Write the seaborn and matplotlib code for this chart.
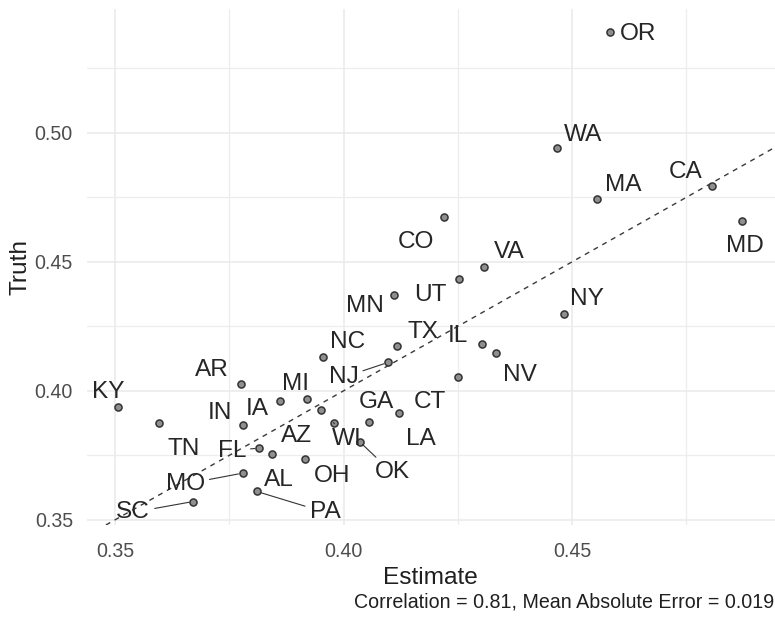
import matplotlib
matplotlib.use("Agg")
import matplotlib.pyplot as plt
import seaborn as sns
import pandas as pd
from matplotlib.ticker import FixedLocator

# ---------------- data ----------------
states = ["OR", "WA", "MA", "CA", "MD", "CO", "VA", "UT", "MN", "NY", "NC",
          "TX", "IL", "NV", "NJ", "CT", "AR", "KY", "MI", "IA", "AZ", "LA",
          "GA", "WI", "TN", "IN", "OK", "FL", "AL", "OH", "MO", "PA", "SC"]
estimate = [0.4583, 0.4468, 0.4555, 0.4807, 0.4871, 0.4220, 0.4308, 0.4252,
            0.4111, 0.4482, 0.3954, 0.4118, 0.4302, 0.4334, 0.4097, 0.4251,
            0.3775, 0.3507, 0.3919, 0.3861, 0.3950, 0.4121, 0.4056, 0.3978,
            0.3597, 0.3779, 0.4035, 0.3815, 0.3843, 0.3916, 0.3779, 0.3810,
            0.3671]
truth = [0.5390, 0.4943, 0.4743, 0.4795, 0.4660, 0.4672, 0.4479, 0.4435,
         0.4372, 0.4297, 0.4131, 0.4174, 0.4182, 0.4148, 0.4110, 0.4053,
         0.4027, 0.3939, 0.3968, 0.3962, 0.3926, 0.3914, 0.3881, 0.3877,
         0.3875, 0.3866, 0.3803, 0.3778, 0.3755, 0.3735, 0.3681, 0.3610,
         0.3571]
x_ticks = [0.35, 0.40, 0.45]
y_ticks = [0.35, 0.40, 0.45, 0.50]
x_label = "Estimate"
y_label = "Truth"
caption = "Correlation = 0.81, Mean Absolute Error = 0.019"

# ---------------- layout (label placement, pixels: dx right, dy down) ----------------
label_offsets = {
    "OR": (28.3, -0.6), "WA": (26, -15), "MA": (26, -16.6), "CA": (-26.6, -16.7),
    "MD": (3.3, 23.3), "CO": (-28, 22.3), "VA": (24.7, -17.3), "UT": (-28.7, 13.6),
    "MN": (-29, 9), "NY": (22.7, -17.6), "NC": (25.3, -17.3), "TX": (25.4, -16),
    "IL": (-23.4, -10.7), "NV": (24, 20), "NJ": (-44.4, 12.3), "CT": (-28.3, 22.7),
    "AR": (-28.4, -16.3), "KY": (-10, -16.7), "MI": (-10.7, -17.6), "IA": (-22.3, 6),
    "AZ": (-24, 23.3), "LA": (21.7, 23.4), "GA": (7.4, -21.7), "WI": (13.4, 14),
    "TN": (24, 23.4), "IN": (-23, -14.7), "OK": (32.4, 28.3), "FL": (-27.3, 0),
    "AL": (7.3, 23.3), "OH": (26.7, 14), "MO": (-57.3, 8.4), "PA": (68.3, 18.3),
    "SC": (-60, 8.3),
}
with_segment = {"NJ", "OK", "MO", "PA", "SC", "FL", "WI"}

sns.set_style("white")
plt.rcParams["font.family"] = ["Liberation Sans", "DejaVu Sans"]

df = pd.DataFrame({"state": states, "Estimate": estimate, "Truth": truth})

W, H = 775, 620
fig = plt.figure(figsize=(W / 100, H / 100), dpi=100)
left_px, right_px, top_px, bottom_px = 86.7, 775, 9.0, 525.0
ax = fig.add_axes([left_px / W, 1 - bottom_px / H,
                   (right_px - left_px) / W, (bottom_px - top_px) / H])

ax.set_xlim(0.3438, 0.4944)
ax.set_ylim(0.348, 0.548)

# grid
ax.xaxis.set_major_locator(FixedLocator(x_ticks))
ax.yaxis.set_major_locator(FixedLocator(y_ticks))
ax.xaxis.set_minor_locator(FixedLocator([0.375, 0.425, 0.475]))
ax.yaxis.set_minor_locator(FixedLocator([0.375, 0.425, 0.475, 0.525]))
ax.set_xticklabels([f"{v:.2f}" for v in x_ticks])
ax.set_yticklabels([f"{v:.2f}" for v in y_ticks])
ax.grid(which="major", color="#EAEAEA", linewidth=1.1)
ax.grid(which="minor", color="#EDEDED", linewidth=0.9)
ax.set_axisbelow(True)
for s in ax.spines.values():
    s.set_visible(False)
ax.tick_params(axis="both", which="both", length=0)
ax.tick_params(axis="x", which="major", pad=12.2, labelsize=14.1, labelcolor="#4D4D4D")
ax.tick_params(axis="y", which="major", pad=9.9, labelsize=14.1, labelcolor="#4D4D4D")

# identity line
ax.axline((0.35, 0.35), slope=1, color="#3a3a3a", linewidth=1.0,
          linestyle=(0, (3.6, 3.6)), zorder=2)

sns.scatterplot(data=df, x="Estimate", y="Truth", ax=ax, s=26,
                color="#8f8f8f", edgecolor="#333333", linewidth=1.1, zorder=3)

k = 0.72  # px -> pt
for st, xv, yv in zip(states, estimate, truth):
    dx, dy = label_offsets[st]
    kw = {}
    if st in with_segment:
        kw["arrowprops"] = dict(arrowstyle="-", color="#333333", lw=0.8,
                                shrinkA=1, shrinkB=3)
    ax.annotate(st, xy=(xv, yv), xytext=(dx * k, -dy * k),
                textcoords="offset points", ha="center", va="center_baseline",
                fontsize=17.6, color="#262626", zorder=4, **kw)

ax.set_xlabel(x_label, fontsize=17.6, color="#1f1f1f", labelpad=4.3)
ax.set_ylabel(y_label, fontsize=17.6, color="#1f1f1f", labelpad=2.0)

fig.text(774 / W, 1 - 600 / H, caption, ha="right", va="center_baseline",
         fontsize=14.1, color="#1f1f1f")

fig.savefig("out.png", dpi=100)
